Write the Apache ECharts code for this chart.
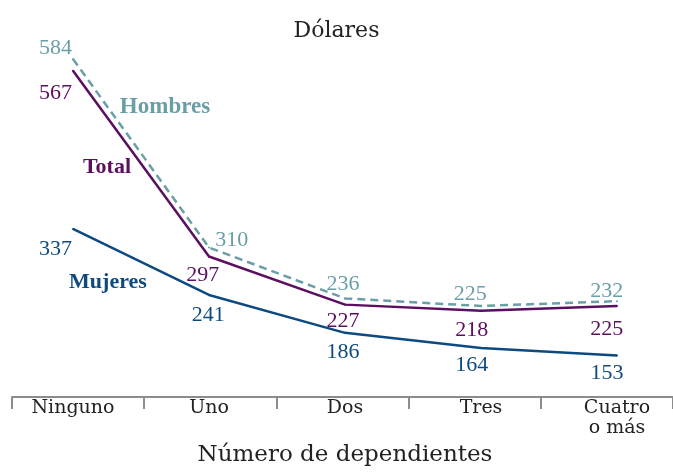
<!DOCTYPE html>
<html>
<head>
<meta charset="utf-8">
<script src="https://cdn.jsdelivr.net/npm/echarts@6/dist/echarts.min.js"></script>
<style>html,body{margin:0;padding:0;background:#fff;}#c{width:673px;height:472px;}</style>
</head>
<body>
<div id="c"></div>
<script>
const categories = ['Ninguno', 'Uno', 'Dos', 'Tres', 'Cuatro\no más'];
const hombres = [584, 310, 236, 225, 232];
const total = [567, 297, 227, 218, 225];
const mujeres = [337, 241, 186, 164, 153];
const seriesNames = ['Hombres', 'Total', 'Mujeres'];

const colors = { Hombres: '#6a9fa7', Total: '#5b0f5f', Mujeres: '#0d4a80' };
const offH = [[-17.5,-14],[22.7,-10.5],[-2,-17],[-10.7,-14.8],[-10.3,-12.8]];
const offT = [[-17.5,19.7],[-6.3,16.1],[-2,13.2],[-9.3,16.9],[-10.3,20.2]];
const offM = [[-17.5,17.3],[-0.7,17.1],[-2,16.4],[-9.3,14.4],[-10,14.9]];
const labelDy = 3;

const numFont = 'Liberation Serif';
const txtFont = 'DejaVu Serif';

function mk(name, vals, offs, dashed) {
  return {
    name: name, type: 'line', xAxisIndex: 1, yAxisIndex: 1,
    symbol: 'circle', symbolSize: 2, showSymbol: true,
    lineStyle: { color: colors[name], width: 2.5, type: dashed ? [8, 5] : 'solid' },
    itemStyle: { color: colors[name] },
    emphasis: { disabled: true },
    data: vals.map((v, i) => ({
      value: v,
      label: { show: true, position: 'inside', offset: [offs[i][0], offs[i][1] + labelDy],
        color: colors[name], fontFamily: numFont, fontSize: 22 }
    })),
    z: dashed ? 3 : 4
  };
}

const chart = echarts.init(document.getElementById('c'), null, { renderer: 'canvas' });
chart.setOption({
  animation: false,
  title: { text: 'Dólares', left: 'center', top: 15,
    textStyle: { fontFamily: txtFont, fontSize: 22, fontWeight: 'normal', color: '#222' } },
  grid: [
    { left: 12, top: 48, width: 665, height: 349 },
    { left: 73, top: 48, width: 544, height: 348 }
  ],
  xAxis: [
    { type: 'category', gridIndex: 0, data: categories, boundaryGap: true,
      axisLine: { show: true, lineStyle: { color: '#8c8c8c', width: 2 } },
      axisTick: { show: true, length: 12, lineStyle: { color: '#8c8c8c', width: 2 } },
      axisLabel: { show: false } },
    { type: 'category', gridIndex: 1, data: categories, boundaryGap: false,
      axisLine: { show: false }, axisTick: { show: false },
      axisLabel: { show: true, interval: 0, margin: 6, fontFamily: txtFont, fontSize: 19,
        lineHeight: 20, color: '#222' },
      name: 'Número de dependientes', nameLocation: 'middle', nameGap: 52,
      nameTextStyle: { fontFamily: txtFont, fontSize: 23, color: '#222' } }
  ],
  yAxis: [
    { type: 'value', gridIndex: 0, min: 100, max: 600, show: false },
    { type: 'value', gridIndex: 1, min: 100, max: 600, show: false }
  ],
  series: [
    mk('Hombres', hombres, offH, true),
    mk('Total', total, offT, false),
    mk('Mujeres', mujeres, offM, false)
  ],
  graphic: [
    { type: 'text', x: 165, y: 107, style: { text: seriesNames[0], fill: colors.Hombres,
      font: 'bold 23px "Liberation Serif"', textAlign: 'center', textVerticalAlign: 'middle' } },
    { type: 'text', x: 107, y: 167, style: { text: seriesNames[1], fill: colors.Total,
      font: 'bold 22px "Liberation Serif"', textAlign: 'center', textVerticalAlign: 'middle' } },
    { type: 'text', x: 108, y: 282, style: { text: seriesNames[2], fill: colors.Mujeres,
      font: 'bold 22px "Liberation Serif"', textAlign: 'center', textVerticalAlign: 'middle' } }
  ]
});
</script>
</body>
</html>
